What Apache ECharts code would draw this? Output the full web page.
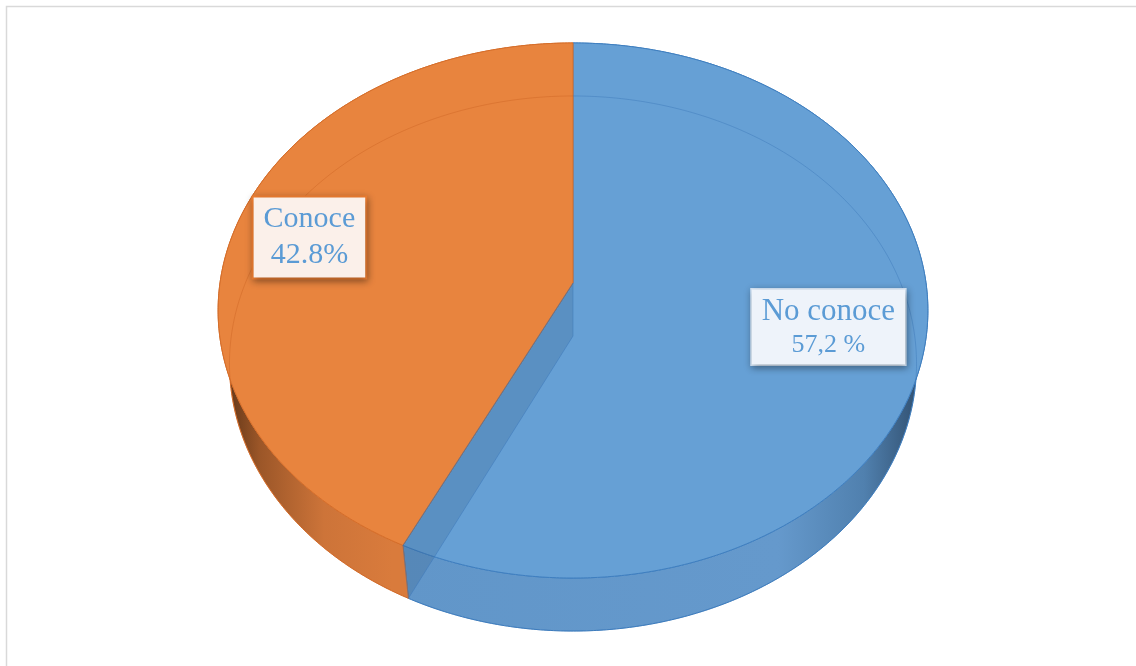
<!DOCTYPE html>
<html>
<head>
<meta charset="utf-8">
<script src="https://cdn.jsdelivr.net/npm/echarts@6/dist/echarts.min.js"></script>
<style>
html,body{margin:0;padding:0;background:#fff;}
#chart{width:1136px;height:666px;}
</style>
</head>
<body>
<div id="chart"></div>
<script>
// ---- data ----
const categories = ['No conoce', 'Conoce'];
const values = [57.2, 42.8];
const valueLabels = ['57,2 %', '42.8%'];

// ---- styles ----
const topColors = ['#66A0D5', '#E8843E'];
const edgeColors = ['#3F7FC0', '#D66E2A'];
const innerLineColors = ['rgba(60,120,185,0.45)', 'rgba(205,100,35,0.45)'];
const wallGradients = [
  [[0, '#6196C9'], [0.72, '#6599CC'], [0.88, '#5080AE'], [1, '#2C4866']],
  [[0, '#5A3216'], [0.22, '#9B5628'], [0.6, '#CD7439'], [1, '#D97B3C']]
];
const wallRange = [[390, 929], [222, 392]];
const boxStyles = [
  {bg: '#EEF3FA', border: '#D2E2F3', bw: 1.5, r1: 31, r2: 26},
  {bg: '#FBF0EA', border: '#ED7D31', bw: 2, r1: 30, r2: 30}
];
const labelRadius = [0.73, 0.78];

// ---- projection (perspective of a tilted disc) ----
const G = {cx: 573, cy: 283, A: 353, B: 264.7, k: 0.1028, depth: 53, s: 0.968};
function pTop(t, r) {
  const u = r * Math.sin(t), v = r * Math.cos(t), w = 1 + G.k * v;
  return [G.cx + G.A * u / w, G.cy - G.B * v / w];
}
function pBot(t, r) {
  const u = r * Math.sin(t), v = r * Math.cos(t), w = 1 + G.k * v;
  return [G.cx + G.s * G.A * u / w, G.cy + G.depth - G.B * v / w];
}
function arc(fn, a0, a1) {
  const n = Math.max(2, Math.ceil(Math.abs(a1 - a0) / (Math.PI / 360)));
  const pts = [];
  for (let i = 0; i <= n; i++) pts.push(fn(a0 + (a1 - a0) * i / n, 1));
  return pts;
}

const total = values.reduce((a, b) => a + b, 0);
const starts = [];
{ let acc = 0; values.forEach(v => { starts.push(acc / total * Math.PI * 2); acc += v; }); }

function renderItem(params, api) {
  const i = params.dataIndex;
  const val = api.value(0);
  const a0 = starts[i];
  const a1 = a0 + val / total * Math.PI * 2;
  const children = [];

  // outer wall
  const topArc = arc(pTop, a0, a1);
  const botArc = arc(pBot, a0, a1).reverse();
  children.push({
    type: 'polygon', z2: 1,
    shape: {points: topArc.concat(botArc)},
    style: {
      fill: new echarts.graphic.LinearGradient(wallRange[i][0], 0, wallRange[i][1], 0,
        wallGradients[i].map(s => ({offset: s[0], color: s[1]})), true),
      stroke: edgeColors[i], lineWidth: 1
    }
  });
  // top face
  children.push({
    type: 'polygon', z2: 5,
    shape: {points: [pTop(0, 0)].concat(topArc)},
    style: {fill: topColors[i], stroke: edgeColors[i], lineWidth: 1, lineJoin: 'round'}
  });
  // radial face seen through the neighbour slice
  const sa = a0;
  if (Math.sin(sa) < -0.05 && Math.cos(sa) < 0) {
    children.push({
      type: 'polygon', z2: 6,
      shape: {points: [pTop(sa, 0), pTop(sa, 1), pBot(sa, 1), pBot(sa, 0)]},
      style: {fill: 'rgba(40,70,110,0.18)', stroke: 'rgba(60,120,185,0.5)', lineWidth: 1}
    });
  }
  // faint bottom outline seen through the top
  children.push({
    type: 'polyline', z2: 7, silent: true,
    shape: {points: arc(pBot, a0, a1)},
    style: {fill: null, stroke: innerLineColors[i], lineWidth: 1}
  });
  // label
  const mid = (a0 + a1) / 2;
  const lp = pTop(mid, labelRadius[i]);
  const bs = boxStyles[i];
  children.push({
    type: 'text', z2: 10,
    x: lp[0], y: lp[1],
    style: {
      text: '{a|' + categories[i] + '}\n{b|' + valueLabels[i] + '}',
      align: 'center', verticalAlign: 'middle',
      backgroundColor: bs.bg, borderColor: bs.border, borderWidth: bs.bw,
      padding: [4, 10, 4, 10],
      shadowColor: 'rgba(0,0,0,0.35)', shadowBlur: 7, shadowOffsetX: 1, shadowOffsetY: 2,
      rich: {
        a: {fontFamily: 'Liberation Serif', fontSize: bs.r1, lineHeight: 36, fill: '#5B9BD5', align: 'center'},
        b: {fontFamily: 'Liberation Serif', fontSize: bs.r2, lineHeight: bs.r2 === 30 ? 36 : 31, fill: '#5B9BD5', align: 'center'}
      }
    }
  });
  return {type: 'group', children: children};
}

const chart = echarts.init(document.getElementById('chart'), null, {renderer: 'canvas'});
chart.setOption({
  animation: false,
  backgroundColor: '#fff',
  graphic: [{
    type: 'rect', silent: true, z: -1,
    shape: {x: 6.5, y: 6.5, width: 1140, height: 680},
    style: {fill: null, stroke: '#D9D9D9', lineWidth: 1.5}
  }],
  series: [{
    type: 'custom',
    coordinateSystem: 'none',
    renderItem: renderItem,
    data: values.map((v, i) => ({name: categories[i], value: [v, i]}))
  }]
});
</script>
</body>
</html>
